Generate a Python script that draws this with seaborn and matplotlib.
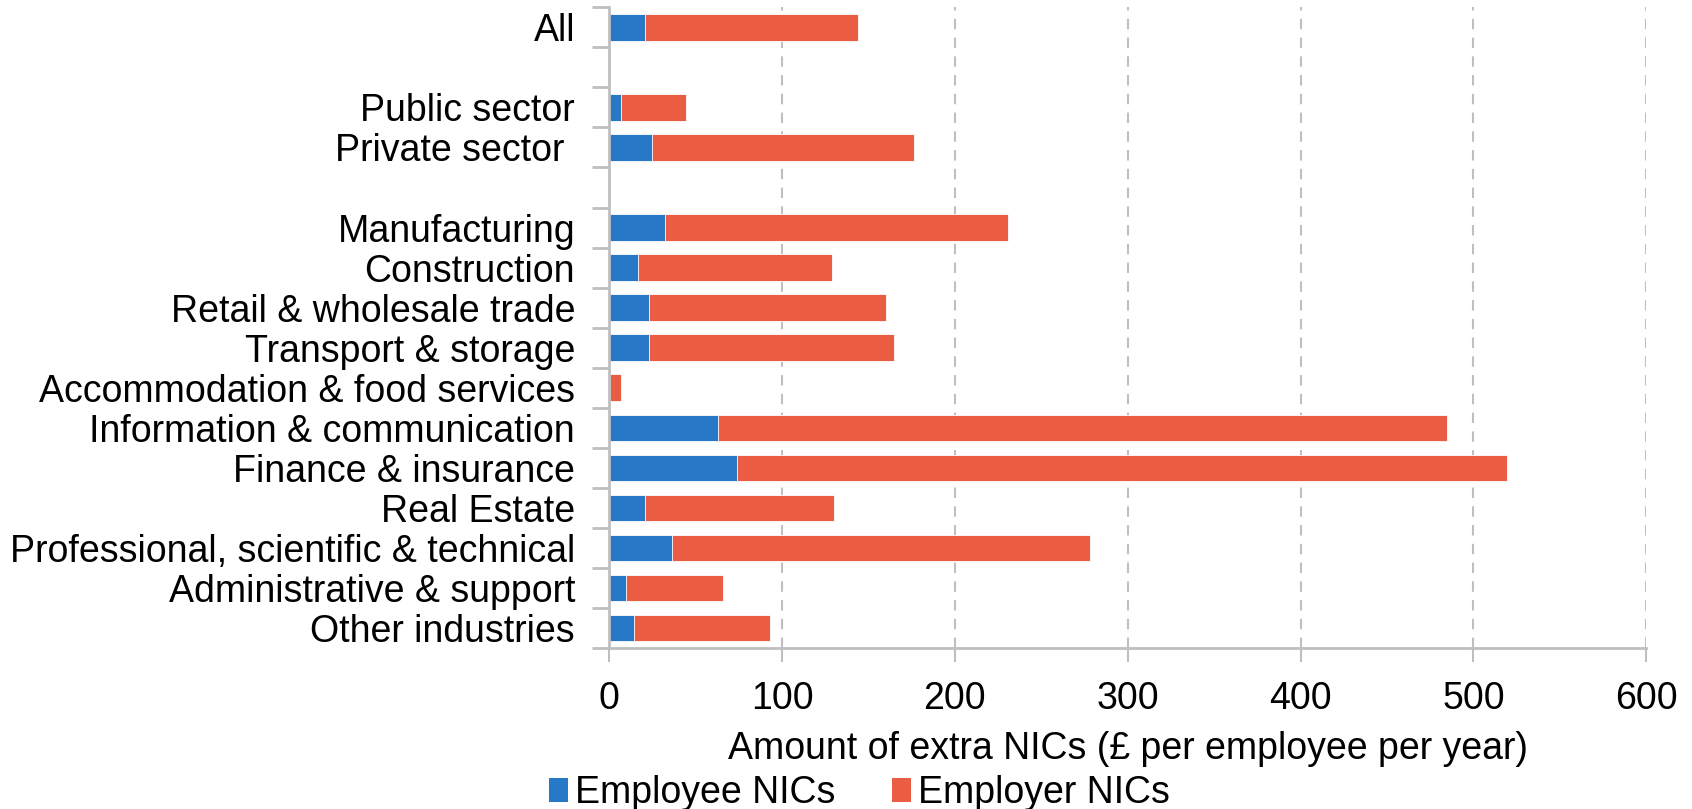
import matplotlib
matplotlib.use("Agg")
import matplotlib.pyplot as plt
from matplotlib.patches import Patch
import seaborn as sns
import pandas as pd

# Sector rows (blank labels leave a spacer row between groups)
categories = [
    "All", " ", "Public sector", "Private sector ", "  ",
    "Manufacturing", "Construction", "Retail & wholesale trade",
    "Transport & storage", "Accommodation & food services",
    "Information & communication", "Finance & insurance", "Real Estate",
    "Professional, scientific & technical", "Administrative & support",
    "Other industries",
]
# Extra NICs, £ per employee per year
employee_nics = [20.8, 0, 7.1, 24.9, 0, 32.6, 16.8, 23.0, 23.0, 0.4,
                 62.9, 73.9, 21.0, 36.6, 10.0, 14.5]
employer_nics = [123.3, 0, 37.2, 151.6, 0, 198.2, 112.4, 137.0, 142.0, 6.4,
                 421.8, 445.7, 109.2, 241.6, 55.9, 78.6]

BLUE = "#2878C8"
RED = "#EB5D43"
GREY = "#BFBFBF"

df = pd.DataFrame({
    "sector": categories,
    "employee": employee_nics,
    "employer": employer_nics,
})
df["total"] = df["employee"] + df["employer"]

sns.set_style("white")
plt.rcParams["font.family"] = ["Liberation Sans", "DejaVu Sans"]
plt.rcParams["text.color"] = "black"
plt.rcParams["axes.labelcolor"] = "black"
plt.rcParams["xtick.labelcolor"] = "black"
plt.rcParams["ytick.labelcolor"] = "black"

fig = plt.figure(figsize=(16.92, 8.09), dpi=100)
ax = fig.add_axes([0.36, 0.199, 0.613, 0.792])

# Stacked bars: full total in red, employee share in blue over it
sns.barplot(data=df, y="sector", x="total", order=categories, color=RED,
            orient="h", width=0.66, saturation=1, ax=ax,
            edgecolor="white", linewidth=0.6, zorder=3)
sns.barplot(data=df, y="sector", x="employee", order=categories, color=BLUE,
            orient="h", width=0.66, saturation=1, ax=ax,
            edgecolor="white", linewidth=0.6, zorder=4)

ax.set_xlim(0, 600)
ax.set_ylim(len(categories) - 0.5, -0.5)
ax.set_xticks(range(0, 601, 100))
ax.set_ylabel("")
ax.set_xlabel("Amount of extra NICs (£ per employee per year)",
              fontsize=27, labelpad=10, color="black")

# Dashed vertical gridlines
for v in range(100, 601, 100):
    ax.axvline(v, color=GREY, lw=1.5, ls=(0, (5, 4)), zorder=1)

for side in ["top", "right"]:
    ax.spines[side].set_visible(False)
for side in ["left", "bottom"]:
    ax.spines[side].set_color(GREY)
    ax.spines[side].set_linewidth(2)
    ax.spines[side].set_zorder(5)

# Category separators as minor ticks on the y axis
ax.set_yticks([i - 0.5 for i in range(len(categories) + 1)], minor=True)
ax.tick_params(axis="y", which="major", length=0, pad=24.5, labelsize=27,
               labelcolor="black")
ax.tick_params(axis="y", which="minor", length=12, width=2, color=GREY,
               direction="out", left=True)
ax.tick_params(axis="x", which="major", length=10, width=1.5, color=GREY,
               direction="out", bottom=True, pad=14, labelsize=27,
               labelcolor="black")

handles = [Patch(facecolor=BLUE, edgecolor="none", label="Employee NICs"),
           Patch(facecolor=RED, edgecolor="none", label="Employer NICs")]
fig.legend(handles=handles, loc="center", bbox_to_anchor=(0.508, 0.02),
           ncol=2, frameon=False, fontsize=27, handlelength=0.5,
           handleheight=0.6, handletextpad=0.2, columnspacing=1.5,
           borderpad=0, labelcolor="black")

fig.savefig("out.png", dpi=100)
